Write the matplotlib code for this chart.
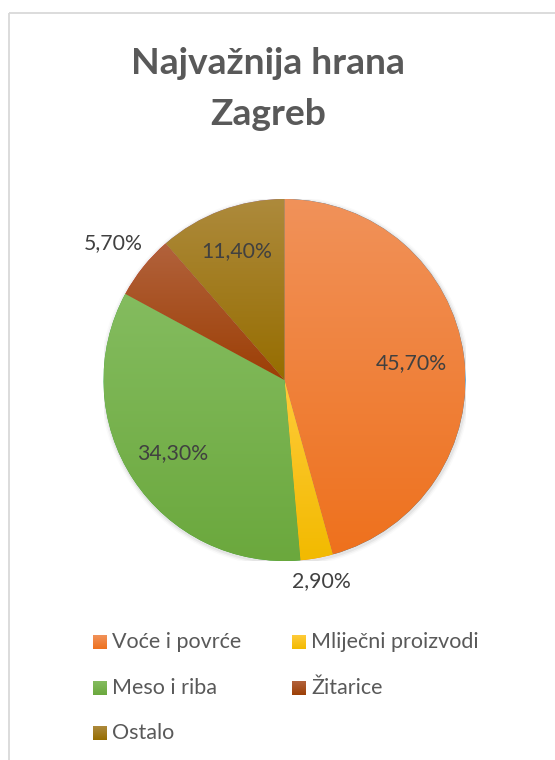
import matplotlib

matplotlib.use("Agg")
import matplotlib.pyplot as plt
from matplotlib.colors import to_rgb
from matplotlib.patches import Rectangle, Circle
import numpy as np

# data
categories = ["Voće i povrće", "Mliječni proizvodi", "Meso i riba", "Žitarice", "Ostalo"]
shares = [45.7, 2.9, 34.3, 5.7, 11.4]
pct_labels = ["45,70%", "2,90%", "34,30%", "5,70%", "11,40%"]

# gradient colours per slice (top, bottom)
grad_top = ["#F1925A", "#FFCB3A", "#84BC5F", "#B2623C", "#AD8A3C"]
grad_bot = ["#EE711D", "#F2BA00", "#6BA83D", "#9C3F05", "#966D00"]
# radial position of each label (fraction of radius)
label_r = [0.71, 1.13, 0.74, 1.21, 0.76]

W, H = 555, 760
fig = plt.figure(figsize=(W / 100, H / 100), dpi=100)
fig.patch.set_facecolor("white")

# pixel overlay for frame, title and legend
ov = fig.add_axes([0, 0, 1, 1])
ov.set_xlim(0, W)
ov.set_ylim(H, 0)
ov.axis("off")
ov.patch.set_alpha(0)
ov.add_patch(Rectangle((8.5, 12.5), 700, 900, fill=False, edgecolor="#d9d9d9", lw=1.3))
for line, yb in zip(["Najvažnija hrana", "Zagreb"], [74, 125]):
    ov.text(268, yb, line, ha="center", va="baseline", fontsize=26.8,
            fontweight="bold", color="#595959", family="Lato")


def gradient(top, bot, n=256):
    t = np.linspace(0, 1, n)[:, None]
    a, b = np.array(to_rgb(top)), np.array(to_rgb(bot))
    return (a[None, None, :] * (1 - t[..., None]) + b[None, None, :] * t[..., None])


# pie
cx, cy, R = 284.5, 380, 181
ax = fig.add_axes([(cx - R) / W, (H - cy - R) / H, 2 * R / W, 2 * R / H])
ax.set_xlim(-1, 1)
ax.set_ylim(-1, 1)
ax.set_aspect("equal")
ax.axis("off")
for k, a in enumerate([0.05, 0.035, 0.02]):
    ax.add_patch(Circle((0.004, -0.008), 1.0 + 0.008 * (k + 1), color="black", alpha=a, lw=0, zorder=0))

wedges, _ = ax.pie(shares, startangle=90, counterclock=False, radius=1,
                   wedgeprops=dict(linewidth=0))
for i, w in enumerate(wedges):
    w.set_zorder(1)
    ext = w.get_path().get_extents()
    im = ax.imshow(gradient(grad_top[i], grad_bot[i]), extent=(ext.x0, ext.x1, ext.y0, ext.y1),
                   origin="upper", aspect="auto", zorder=2, interpolation="bilinear")
    im.set_clip_path(w)
    mid = np.deg2rad((w.theta1 + w.theta2) / 2)
    ax.text(label_r[i] * np.cos(mid), label_r[i] * np.sin(mid), pct_labels[i], ha="center",
            va="center", fontsize=15.3, color="#404040", family="Lato", zorder=5, clip_on=False)
ax.set_xlim(-1, 1)
ax.set_ylim(-1, 1)

# legend laid out row-wise like the source
col_x = [93, 292]
row_y = [642, 688, 733]
for i, name in enumerate(categories):
    x = col_x[i % 2]
    y = row_y[i // 2]
    ov.imshow(gradient(grad_top[i], grad_bot[i]), extent=(x, x + 14, y + 7, y - 7),
              aspect="auto", interpolation="bilinear")
    ov.text(x + 19, y, name, ha="left", va="center", fontsize=15.5, color="#595959", family="Lato")
ov.set_xlim(0, W)
ov.set_ylim(H, 0)

fig.savefig("out.png", dpi=100)
